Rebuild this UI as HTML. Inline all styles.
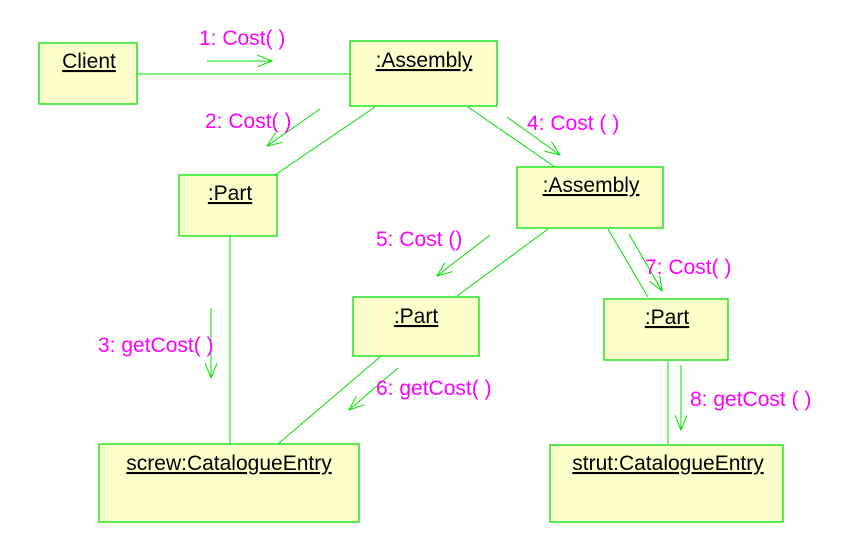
<!DOCTYPE html>
<html><head><style>
body{margin:0;background:#fff;}
svg{display:block;font-family:"Liberation Sans",Arial,sans-serif;}
.b{fill:#ffffcc;stroke:#00e000;stroke-width:1.3}
.l{stroke:#00e000;stroke-width:1;fill:none}
.t{font-size:21px;fill:#000;text-decoration:underline}
.m{font-size:21px;fill:#ff00ff}
</style></head><body>
<svg width="849" height="548" viewBox="0 0 849 548">
<defs><marker id="a" markerWidth="16" markerHeight="12" refX="15" refY="6" orient="auto" markerUnits="userSpaceOnUse"><path d="M0,0 L15,6 L0,12" fill="none" stroke="#00e000" stroke-width="1"/></marker></defs>
<g class="l">
<line x1="137" y1="74" x2="350" y2="74"/>
<line x1="375" y1="107" x2="275" y2="175"/>
<line x1="468" y1="107" x2="555" y2="167"/>
<line x1="230" y1="236" x2="230" y2="444"/>
<line x1="548" y1="229" x2="457" y2="296"/>
<line x1="608" y1="229" x2="648" y2="297"/>
<line x1="380" y1="357" x2="278" y2="444"/>
<line x1="668" y1="361" x2="668" y2="444"/>
<line x1="207" y1="61" x2="272" y2="61" marker-end="url(#a)"/>
<line x1="320" y1="109" x2="267" y2="146" marker-end="url(#a)"/>
<line x1="507" y1="117" x2="560" y2="155" marker-end="url(#a)"/>
<line x1="490" y1="235" x2="437" y2="276" marker-end="url(#a)"/>
<line x1="398" y1="368" x2="349" y2="410" marker-end="url(#a)"/>
<line x1="629" y1="234" x2="662" y2="291" marker-end="url(#a)"/>
<line x1="211" y1="308" x2="211" y2="378" marker-end="url(#a)"/>
<line x1="681" y1="365" x2="681" y2="430" marker-end="url(#a)"/>
</g>
<rect class="b" x="39" y="43" width="98" height="61"/>
<rect class="b" x="350" y="41" width="147" height="65"/>
<rect class="b" x="179" y="175" width="98" height="61"/>
<rect class="b" x="517" y="167" width="146" height="61"/>
<rect class="b" x="353" y="297" width="126" height="59"/>
<rect class="b" x="604" y="299" width="124" height="61"/>
<rect class="b" x="99" y="444" width="260" height="78"/>
<rect class="b" x="550" y="445" width="233" height="77"/>
<text class="t" x="89" y="68" text-anchor="middle">Client</text>
<text class="t" x="424" y="67" text-anchor="middle">:Assembly</text>
<text class="t" x="230" y="200" text-anchor="middle">:Part</text>
<text class="t" x="591" y="192" text-anchor="middle">:Assembly</text>
<text class="t" x="416" y="323" text-anchor="middle">:Part</text>
<text class="t" x="667" y="324" text-anchor="middle">:Part</text>
<text class="t" x="229" y="470" text-anchor="middle">screw:CatalogueEntry</text>
<text class="t" x="668" y="470" text-anchor="middle">strut:CatalogueEntry</text>
<text class="m" x="199" y="45">1: Cost( )</text>
<text class="m" x="205" y="128">2: Cost( )</text>
<text class="m" x="527" y="130">4: Cost ( )</text>
<text class="m" x="376" y="246">5: Cost ()</text>
<text class="m" x="645" y="274">7: Cost( )</text>
<text class="m" x="98" y="352">3: getCost( )</text>
<text class="m" x="376" y="395">6: getCost( )</text>
<text class="m" x="690" y="406">8: getCost ( )</text>
</svg>
</body></html>
